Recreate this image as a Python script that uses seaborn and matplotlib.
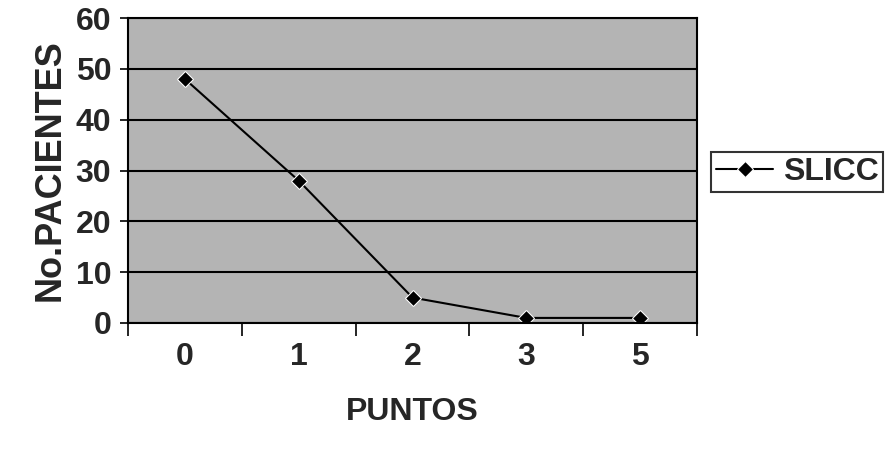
import matplotlib
matplotlib.use("Agg")
import matplotlib.pyplot as plt
import seaborn as sns
import pandas as pd
import numpy as np

categories = ["0", "1", "2", "3", "5"]
values = [48, 28, 5, 1, 1]
series_name = "SLICC"
yticks = [0, 10, 20, 30, 40, 50, 60]

sns.set_theme(style="white")
plt.rcParams['font.family'] = ['Liberation Sans', 'DejaVu Sans']

df = pd.DataFrame({"PUNTOS": categories, "No.PACIENTES": values, "serie": series_name})

fig = plt.figure(figsize=(8.92, 4.54), dpi=100)
ax = fig.add_axes([128/892, 1-323/454, (697-128)/892, (323-18)/454])
ax.set_facecolor("#b4b4b4")

sns.lineplot(data=df, x="PUNTOS", y="No.PACIENTES", hue="serie", palette=["black"],
             marker="D", markersize=8, linewidth=1.5, ax=ax, sort=False)

ax.set_ylim(0, 60)
ax.set_xlim(-0.5, len(categories) - 0.5)
ax.set_yticks(yticks)
ax.yaxis.grid(True, color="black", linewidth=1.5)
ax.set_axisbelow(True)
ax.set_xticks(range(len(categories)))
ax.set_xticklabels(categories, fontsize=23, fontweight="bold")
ax.set_xticks(np.arange(-0.5, len(categories), 1.0), minor=True)
ax.tick_params(axis="x", which="major", length=0, pad=14)
ax.tick_params(axis="x", which="minor", length=9, width=1.2, color="black", direction="out", bottom=True)
ax.tick_params(axis="y", length=6, width=1.2, color="black", direction="out", left=True, labelsize=23, pad=6)
for lab in ax.get_yticklabels():
    lab.set_fontweight("bold")
for s in ax.spines.values():
    s.set_color("black")
    s.set_linewidth(1.5)

ax.set_xlabel("PUNTOS", fontsize=23, fontweight="bold", labelpad=18)
ax.set_ylabel("No.PACIENTES", fontsize=26, fontweight="bold", labelpad=6)

leg = ax.legend(loc="center left", bbox_to_anchor=(711/892, 1-172/454), bbox_transform=fig.transFigure,
                frameon=True, fancybox=False, fontsize=23, handlelength=1.8, borderpad=0.15,
                handletextpad=0.3, borderaxespad=0)
leg.get_frame().set_edgecolor("black")
leg.get_frame().set_linewidth(1.5)
for t in leg.get_texts():
    t.set_fontweight("bold")

fig.savefig("out.png", dpi=100)
